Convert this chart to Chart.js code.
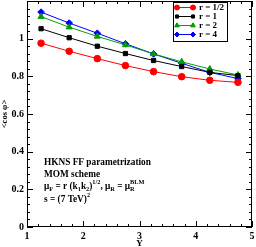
<!DOCTYPE html>
<html>
<head>
<meta charset="utf-8">
<script src="https://cdn.jsdelivr.net/npm/chart.js@4/dist/chart.umd.min.js"></script>
<style>
	html, body { margin: 0; padding: 0; background: #fff; }
	#wrap { width: 256px; height: 247px; }
</style>
</head>
<body>
<div id="wrap"><canvas id="chart" width="256" height="247"></canvas></div>
<script>
'use strict';

// rapidity values
const rapidity = [1.25, 1.75, 2.25, 2.75, 3.25, 3.75, 4.25, 4.75];

// <cos phi> for each scale factor r
const rHalf = [0.976, 0.933, 0.894, 0.857, 0.825, 0.798, 0.779, 0.768];
const rOne = [1.053, 1.005, 0.960, 0.921, 0.884, 0.852, 0.821, 0.804];
const rTwo = [1.117, 1.061, 1.012, 0.967, 0.919, 0.877, 0.839, 0.807];
const rFour = [1.141, 1.083, 1.029, 0.973, 0.919, 0.869, 0.821, 0.788];

const seriesLabels = ['r = 1/2', 'r = 1', 'r = 2', 'r = 4'];
const yTicks = [0, 0.2, 0.4, 0.6, 0.8, 1];
const xTicks = [1, 2, 3, 4, 5];

const FONT = '"Liberation Serif", "DejaVu Serif", serif';

function toPoints(values) {
	return values.map((v, i) => ({ x: rapidity[i], y: v }));
}

function makeSet(label, values, color, style, radius) {
	return {
		label: label,
		data: toPoints(values),
		borderColor: color,
		backgroundColor: color,
		borderWidth: 1,
		pointStyle: style,
		pointRadius: radius,
		pointBorderWidth: 1,
		tension: 0
	};
}

/**
 * Frame with inward major and minor ticks on all four sides
 */
const framePlugin = {
	id: 'frame',
	afterDatasetsDraw(chart) {
		const ctx = chart.ctx;
		const a = chart.chartArea;
		const xs = chart.scales.x;
		const ys = chart.scales.y;
		ctx.save();
		ctx.strokeStyle = '#000';
		ctx.lineWidth = 1;
		ctx.strokeRect(a.left + 0.5, a.top + 0.5, a.right - a.left - 1, a.bottom - a.top - 1);
		ctx.beginPath();
		for (let v = 1; v <= 5.0001; v += 0.2) {
			let major = Math.abs(v - Math.round(v)) < 0.001;
			let len = major ? 6 : 3;
			let px = Math.round(xs.getPixelForValue(v)) + 0.5;
			ctx.moveTo(px, a.bottom);
			ctx.lineTo(px, a.bottom - len);
			ctx.moveTo(px, a.top);
			ctx.lineTo(px, a.top + len);
		}
		for (let i = 0; i <= 30; i++) {
			let v = i * 0.04;
			let major = i % 5 === 0;
			let len = major ? 6 : 3;
			let py = Math.round(ys.getPixelForValue(v)) + 0.5;
			ctx.moveTo(a.left, py);
			ctx.lineTo(a.left + len, py);
			ctx.moveTo(a.right, py);
			ctx.lineTo(a.right - len, py);
		}
		ctx.stroke();
		ctx.restore();
	}
};

/**
 * Legend box in the upper right corner and the text notes
 */
const notesPlugin = {
	id: 'notes',
	afterDraw(chart) {
		const ctx = chart.ctx;
		ctx.save();
		// legend
		ctx.fillStyle = '#fff';
		ctx.fillRect(173, 2, 55, 40);
		ctx.strokeStyle = '#000';
		ctx.lineWidth = 1;
		ctx.strokeRect(173.5, 2.5, 54, 39);
		chart.data.datasets.forEach((ds, i) => {
			let y = 7.5 + i * 9;
			ctx.strokeStyle = ds.borderColor;
			ctx.beginPath();
			ctx.moveTo(177, y);
			ctx.lineTo(193, y);
			ctx.stroke();
			for (const px of [177, 193]) {
				Chart.helpers.drawPoint(ctx, {
					pointStyle: ds.pointStyle,
					radius: ds.pointRadius - 0.8,
					borderWidth: 1
				}, px, y);
				ctx.fillStyle = ds.backgroundColor;
				ctx.fill();
			}
			ctx.fillStyle = '#000';
			ctx.font = 'bold 9px ' + FONT;
			ctx.textBaseline = 'middle';
			ctx.fillText(ds.label, 199, y + 0.5);
		});

		// annotation text
		const big = 'bold 9.3px ' + FONT;
		const small = 'bold 6.3px ' + FONT;
		ctx.fillStyle = '#000';
		ctx.textBaseline = 'alphabetic';
		ctx.font = big;
		ctx.fillText('HKNS FF parametrization', 44, 164.5);
		ctx.fillText('MOM scheme', 44, 176.5);

		let x = 44;
		let base = 189;
		const parts = [
			['\u03bc', big, 0], ['F', small, 2], [' = r (k', big, 0], ['1', small, 2],
			['k', big, 0], ['2', small, 2], [')', big, 0], ['1/2', small, -5],
			[', \u03bc', big, 0], ['R', small, 2], [' = \u03bc', big, 0]
		];
		for (const p of parts) {
			ctx.font = p[1];
			ctx.fillText(p[0], x, base + p[2]);
			x += ctx.measureText(p[0]).width;
		}
		ctx.font = small;
		ctx.fillText('BLM', x, base - 5);
		ctx.fillText('R', x, base + 2);

		x = 44;
		base = 201.5;
		ctx.font = big;
		ctx.fillText('s = (7 TeV)', x, base);
		x += ctx.measureText('s = (7 TeV)').width;
		ctx.font = small;
		ctx.fillText('2', x, base - 5);
		ctx.restore();
	}
};

new Chart(document.getElementById('chart'), {
	type: 'line',
	data: {
		datasets: [
			makeSet(seriesLabels[0], rHalf, '#ff0000', 'circle', 3.3),
			makeSet(seriesLabels[1], rOne, '#000000', 'rect', 3),
			makeSet(seriesLabels[2], rTwo, '#00a000', 'triangle', 3.5),
			makeSet(seriesLabels[3], rFour, '#0000ff', 'rectRot', 3.3)
		]
	},
	options: {
		responsive: false,
		animation: false,
		events: [],
		layout: {
			autoPadding: false,
			padding: { top: 1, right: 4, left: 0, bottom: 0 }
		},
		plugins: {
			legend: { display: false },
			tooltip: { enabled: false }
		},
		scales: {
			x: {
				type: 'linear',
				min: 1,
				max: 5,
				afterBuildTicks: (s) => { s.ticks = xTicks.map(v => ({ value: v })); },
				afterFit: (s) => {
					s.height = 20;
					s.paddingLeft = 0;
					s.paddingRight = 0;
				},
				grid: { display: false, drawTicks: false },
				border: { display: false },
				ticks: {
					padding: 3,
					color: '#000',
					font: { family: FONT, size: 10, weight: 'bold' },
					maxRotation: 0
				},
				title: {
					display: true,
					text: 'Y',
					color: '#000',
					padding: { top: 1, bottom: -2 },
					font: { family: FONT, size: 9, weight: 'bold' }
				}
			},
			y: {
				type: 'linear',
				min: 0,
				max: 1.2,
				afterBuildTicks: (s) => { s.ticks = yTicks.map(v => ({ value: v })); },
				afterFit: (s) => {
					s.width = 27;
					s.paddingTop = 0;
					s.paddingBottom = 0;
				},
				grid: { display: false, drawTicks: false },
				border: { display: false },
				ticks: {
					padding: 3,
					color: '#000',
					font: { family: FONT, size: 10, weight: 'bold' },
					callback: (v) => String(Math.round(v * 10) / 10)
				},
				title: {
					display: true,
					text: '<cos \u03c6>',
					color: '#000',
					padding: 0,
					font: { family: FONT, size: 8.5, weight: 'bold' }
				}
			}
		}
	},
	plugins: [framePlugin, notesPlugin]
});
</script>
</body>
</html>
